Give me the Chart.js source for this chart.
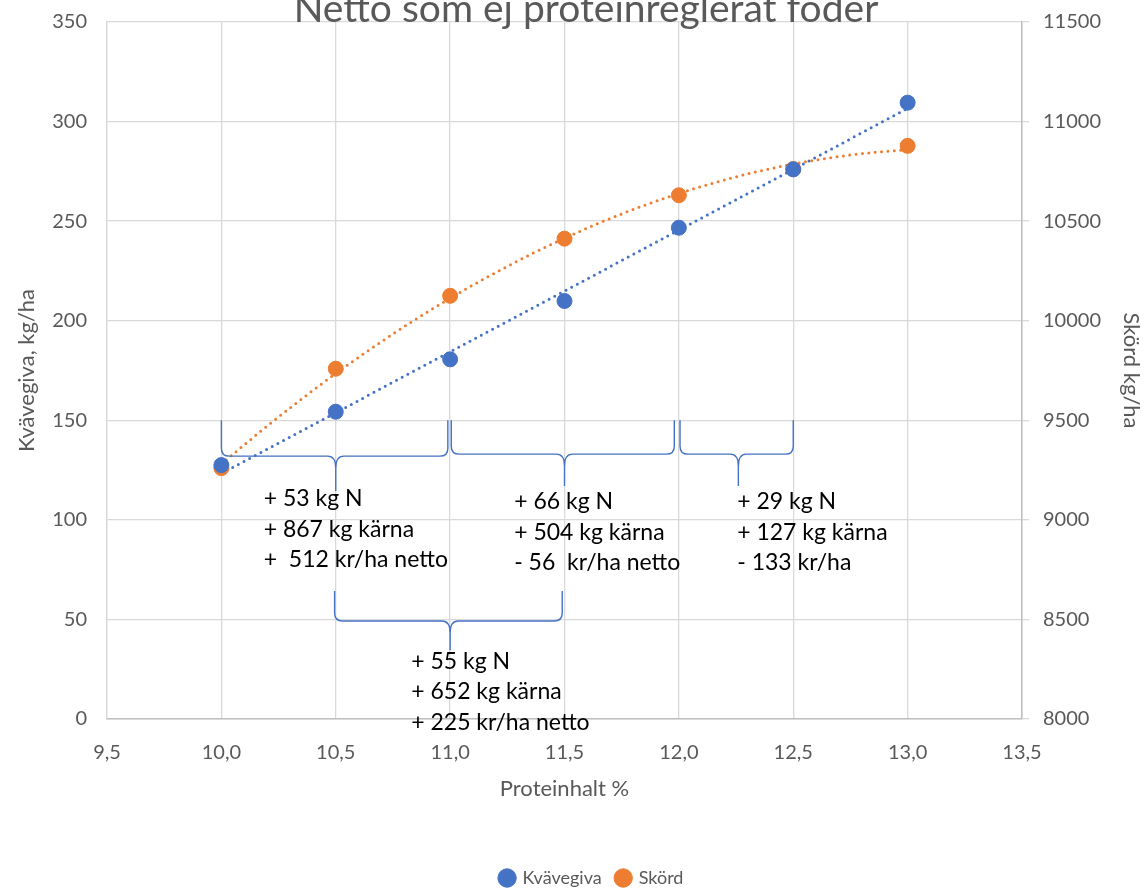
<!DOCTYPE html>
<html>
<head>
<meta charset="utf-8">
<script src="https://cdn.jsdelivr.net/npm/chart.js@4"></script>
<style>
html,body{margin:0;padding:0;background:#fff;}
#wrap{width:1144px;height:888px;position:relative;}
</style>
</head>
<body>
<div id="wrap"><canvas id="c" width="1144" height="888"></canvas></div>
<script>
// ---- data ----
const chartTitle = "Netto som ej proteinreglerat foder";
const proteinhalt = [10.0, 10.5, 11.0, 11.5, 12.0, 12.5, 13.0];
const kvavegiva = [127.5, 154.3, 180.6, 209.9, 246.7, 276, 309.5];
const skord = [9260, 9759, 10125, 10412, 10630, 10762, 10878];
const seriesNames = ["Kvävegiva", "Skörd"];
const xTitle = "Proteinhalt %";
const yTitle = "Kvävegiva, kg/ha";
const y2Title = "Skörd kg/ha";

// annotation texts (braces + labels)
const braceTexts = [
  ["+ 53 kg N", "+ 867 kg kärna", "+  512 kr/ha netto"],
  ["+ 66 kg N", "+ 504 kg kärna", "- 56  kr/ha netto"],
  ["+ 29 kg N", "+ 127 kg kärna", "- 133 kr/ha"],
  ["+ 55 kg N", "+ 652 kg kärna", "+ 225 kr/ha netto"]
];

// layout of braces in data units (x, left y axis)
const braceLayout = [
  {x1: 10.0, x2: 10.99, xm: 10.5, top: 150, bar: 132, tip: 114.5, tx: 10.185, ty: 110.5},
  {x1: 11.005, x2: 11.98, xm: 11.5, top: 150, bar: 133, tip: 117, tx: 11.28, ty: 109},
  {x1: 12.005, x2: 12.5, xm: 12.26, top: 150, bar: 133, tip: 117, tx: 12.255, ty: 109},
  {x1: 10.495, x2: 11.49, xm: 11.0, top: 64.3, bar: 49.2, tip: 34.5, tx: 10.83, ty: 29}
];

const BLUE = "#4472C4", ORANGE = "#ED7D31", TXT = "#595959";
const FONT = "Lato, 'Open Sans', sans-serif";

function linFit(xs, ys) {
  const n = xs.length;
  const mx = xs.reduce((a,b)=>a+b,0)/n, my = ys.reduce((a,b)=>a+b,0)/n;
  let sxy=0, sxx=0;
  for (let i=0;i<n;i++){ sxy += (xs[i]-mx)*(ys[i]-my); sxx += (xs[i]-mx)**2; }
  const b = sxy/sxx; const a = my - b*mx;
  return x => a + b*x;
}
function quadFit(xs, ys) {
  const n = xs.length;
  const mx = xs.reduce((a,b)=>a+b,0)/n;
  let S = [[0,0,0],[0,0,0],[0,0,0]], T=[0,0,0];
  for (let i=0;i<n;i++){
    const u = xs[i]-mx; const p=[1,u,u*u];
    for (let r=0;r<3;r++){ T[r]+=p[r]*ys[i]; for(let c=0;c<3;c++) S[r][c]+=p[r]*p[c]; }
  }
  const M = S.map((row,i)=>[...row, T[i]]);
  for (let i=0;i<3;i++){
    let piv=i; for(let k=i+1;k<3;k++) if(Math.abs(M[k][i])>Math.abs(M[piv][i])) piv=k;
    [M[i],M[piv]]=[M[piv],M[i]];
    for(let k=0;k<3;k++){ if(k===i) continue; const f=M[k][i]/M[i][i]; for(let c=i;c<4;c++) M[k][c]-=f*M[i][c]; }
  }
  const co = [M[0][3]/M[0][0], M[1][3]/M[1][1], M[2][3]/M[2][2]];
  return x => { const u=x-mx; return co[0]+co[1]*u+co[2]*u*u; };
}

const trendPlugin = {
  id: 'trend',
  beforeDatasetsDraw(chart) {
    const {ctx, scales} = chart;
    const xs = scales.x;
    const defs = [
      {f: linFit(proteinhalt, kvavegiva), ys: scales.y, color: BLUE},
      {f: quadFit(proteinhalt, skord), ys: scales.y2, color: ORANGE}
    ];
    const x0 = proteinhalt[0], x1 = proteinhalt[proteinhalt.length-1];
    ctx.save();
    defs.forEach(d => {
      ctx.beginPath();
      ctx.strokeStyle = d.color;
      ctx.lineWidth = 3;
      ctx.lineCap = 'round';
      ctx.setLineDash([0, 6.4]);
      const N = 120;
      for (let i=0;i<=N;i++){
        const xv = x0 + (x1-x0)*i/N;
        const px = xs.getPixelForValue(xv), py = d.ys.getPixelForValue(d.f(xv));
        if (i===0) ctx.moveTo(px,py); else ctx.lineTo(px,py);
      }
      ctx.stroke();
    });
    ctx.restore();
  }
};

const annoPlugin = {
  id: 'anno',
  afterLayout(chart) {
    if (chart.legend) { chart.legend.left += 20; chart.legend.right += 20; }
  },
  afterDatasetsDraw(chart) {
    const {ctx, scales} = chart;
    const X = v => scales.x.getPixelForValue(v), Y = v => scales.y.getPixelForValue(v);
    ctx.save();
    ctx.strokeStyle = BLUE;
    ctx.lineWidth = 1.4;
    ctx.setLineDash([]);
    braceLayout.forEach(b => {
      const l = X(b.x1), r = X(b.x2), m = X(b.xm);
      const t = Y(b.top), bar = Y(b.bar), tip = Y(b.tip);
      const rr = 5;
      ctx.beginPath();
      ctx.moveTo(l, t);
      ctx.lineTo(l, bar - rr*1.6);
      ctx.quadraticCurveTo(l, bar, l + rr*1.6, bar);
      ctx.lineTo(m - rr*1.6, bar);
      ctx.quadraticCurveTo(m, bar, m, bar + rr*2.4);
      ctx.lineTo(m, tip);
      ctx.moveTo(m, bar + rr*2.4);
      ctx.quadraticCurveTo(m, bar, m + rr*1.6, bar);
      ctx.lineTo(r - rr*1.6, bar);
      ctx.quadraticCurveTo(r, bar, r, bar - rr*1.6);
      ctx.lineTo(r, t);
      ctx.stroke();
    });
    ctx.fillStyle = "#000";
    ctx.font = "23px " + FONT;
    ctx.textAlign = 'left';
    ctx.textBaseline = 'middle';
    braceLayout.forEach((b, i) => {
      const lines = braceTexts[i];
      const px = X(b.tx), py = Y(b.ty);
      lines.forEach((s, k) => ctx.fillText(s, px, py + k*30.5));
    });
    // title
    ctx.fillStyle = TXT;
    ctx.font = "39px " + FONT;
    ctx.textAlign = 'center';
    ctx.textBaseline = 'alphabetic';
    ctx.fillText(chartTitle, 586, 22);
    ctx.restore();
  }
};

const fmt = v => Number(v).toFixed(1).replace('.', ',');
const noPadV = s => { s.paddingTop = 0; s.paddingBottom = 0; };

new Chart(document.getElementById('c'), {
  type: 'scatter',
  data: {
    datasets: [
      {label: seriesNames[0], data: proteinhalt.map((x,i)=>({x, y: kvavegiva[i]})), yAxisID: 'y',
       backgroundColor: BLUE, borderColor: BLUE, pointRadius: 7.5, pointHoverRadius: 7.5, pointStyle: 'circle'},
      {label: seriesNames[1], data: proteinhalt.map((x,i)=>({x, y: skord[i]})), yAxisID: 'y2',
       backgroundColor: ORANGE, borderColor: ORANGE, pointRadius: 7.5, pointHoverRadius: 7.5, pointStyle: 'circle'}
    ]
  },
  options: {
    responsive: false,
    animation: false,
    layout: {padding: {top: 22, left: 0, right: 0, bottom: -9}, autoPadding: false},
    plugins: {
      title: {display: false},
      tooltip: {enabled: false},
      legend: {
        display: true, position: 'bottom',
        labels: {usePointStyle: true, pointStyle: 'circle', boxWidth: 13, boxHeight: 13, padding: 15,
                 color: TXT, font: {family: FONT, size: 18}}
      }
    },
    scales: {
      x: {
        type: 'linear', min: 9.5, max: 13.5,
        afterFit: s => { s.height = 135; s.paddingLeft = 0; s.paddingRight = 0; },
        ticks: {stepSize: 0.5, callback: v => fmt(v), color: TXT, font: {family: FONT, size: 20}, padding: 22, maxRotation: 0},
        grid: {color: '#d9d9d9', lineWidth: 1.3, drawTicks: false},
        border: {color: '#bfbfbf', width: 1.5},
        title: {display: true, text: xTitle, color: TXT, font: {family: FONT, size: 22}, padding: {top: 0, bottom: 52}}
      },
      y: {
        position: 'left', min: 0, max: 350,
        afterFit: s => { s.width = 107; noPadV(s); },
        ticks: {stepSize: 50, color: TXT, font: {family: FONT, size: 20}, padding: 20},
        grid: {color: '#d9d9d9', lineWidth: 1.3, drawTicks: false},
        border: {color: '#d9d9d9', width: 1.3},
        title: {display: true, text: yTitle, color: TXT, font: {family: FONT, size: 22}, padding: {top: 14, bottom: 0}}
      },
      y2: {
        position: 'right', min: 8000, max: 11500,
        afterFit: s => { s.width = 122; noPadV(s); },
        ticks: {stepSize: 500, callback: v => String(v), color: TXT, font: {family: FONT, size: 20}, padding: 14},
        grid: {drawOnChartArea: false, color: '#d9d9d9', lineWidth: 1.3, tickLength: 7, drawTicks: true},
        border: {color: '#bfbfbf', width: 1.5},
        title: {display: true, text: y2Title, color: TXT, font: {family: FONT, size: 22}, padding: {top: 0, bottom: 0}}
      }
    }
  },
  plugins: [trendPlugin, annoPlugin]
});
</script>
</body>
</html>
